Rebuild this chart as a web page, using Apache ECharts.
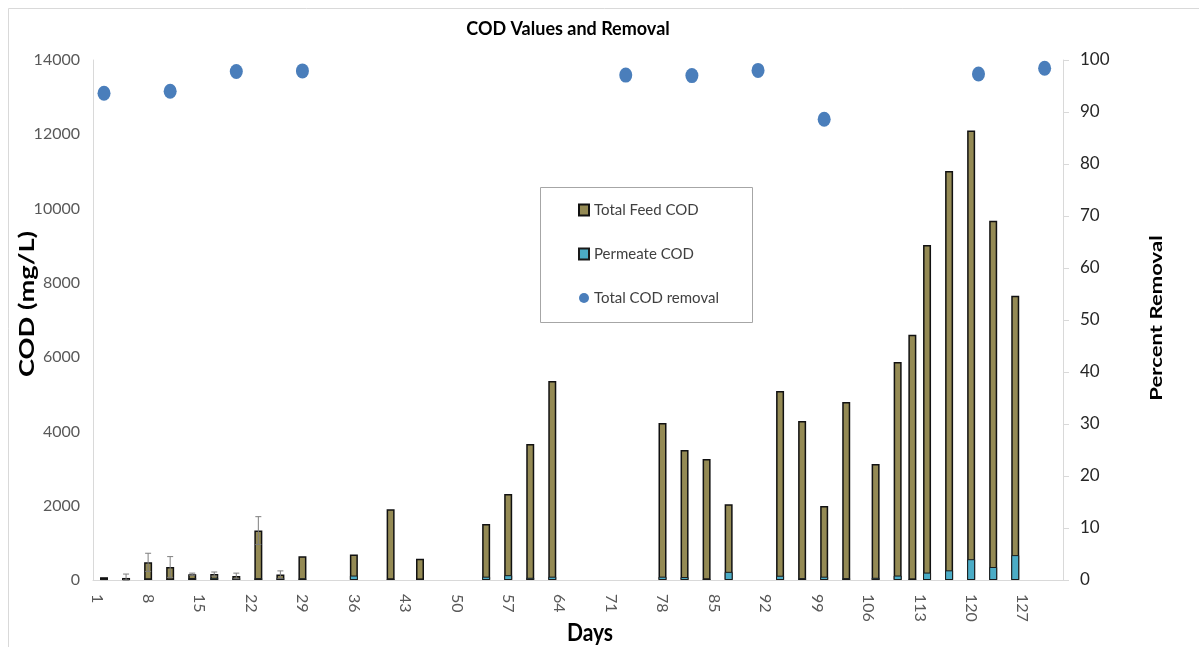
<!DOCTYPE html>
<html>
<head>
<meta charset="utf-8">
<script src="https://cdn.jsdelivr.net/npm/echarts@6/dist/echarts.min.js"></script>
<style>
html,body{margin:0;padding:0;background:#fff;}
#chart{width:1199px;height:647px;}
</style>
</head>
<body>
<div id="chart"></div>
<script>
// ---- data ----
const dayCount = 132;                       // category axis: days 1..132
const feedDays   = [2, 5, 8, 11, 14, 17, 20, 23, 26, 29, 36, 41, 45, 54, 57, 60, 63, 78, 81, 84, 87, 94, 97, 100, 103, 107, 110, 112, 114, 117, 120, 123, 126];
const feedCOD    = [75, 55, 475, 350, 155, 160, 110, 1330, 145, 640, 685, 1905, 570, 1510, 2315, 3660, 5360, 4225, 3500, 3255, 2040, 5090, 4280, 1995, 4795, 3125, 5870, 6600, 9020, 11010, 12100, 9670, 7650];
const permCOD    = [25, 20, 40, 30, 55, 60, 50, 50, 50, 45, 120, 40, 30, 90, 130, 60, 90, 90, 80, 40, 220, 115, 50, 90, 50, 60, 120, 35, 200, 260, 560, 350, 670];
const errDays    = [5, 8, 11, 14, 17, 20, 23, 26];
const errFeed    = [105, 245, 280, 30, 55, 75, 375, 100];
const removalDays = [2, 11, 20, 29, 73, 82, 91, 100, 121, 130];
const removalPct  = [93.6, 94.0, 97.8, 97.9, 97.1, 97.0, 98.0, 88.6, 97.3, 98.4];
const codTicks = {min: 0, max: 14000, step: 2000};
const pctTicks = {min: 0, max: 100, step: 10};

// ---- build library data ----
const days = [];
for (let d = 1; d <= dayCount; d++) days.push(String(d));
function spread(ds, vs) {
  const arr = new Array(dayCount).fill(null);
  ds.forEach((d, i) => { arr[d - 1] = vs[i]; });
  return arr;
}
const feedData = spread(feedDays, feedCOD);
const permData = spread(feedDays, permCOD);
const remData = spread(removalDays, removalPct);
const errData = errDays.map((d, i) => {
  const v = feedCOD[feedDays.indexOf(d)];
  return [String(d), Math.max(0, v - errFeed[i]), v + errFeed[i]];
});

const FONT = 'Lato, "Open Sans", sans-serif';
const chart = echarts.init(document.getElementById('chart'), null, {renderer: 'canvas'});
chart.setOption({
  animation: false,
  backgroundColor: '#ffffff',
  textStyle: {fontFamily: FONT},
  title: {
    text: 'COD Values and Removal',
    left: 563, top: 15, textAlign: 'center',
    textStyle: {fontFamily: FONT, fontSize: 18, fontWeight: 'bold', color: '#000'}
  },
  graphic: [
    {type: 'rect', shape: {x: 8.5, y: 8.5, width: 1200, height: 700}, style: {fill: 'none', stroke: '#d9d9d9', lineWidth: 1}, z: 0, silent: true},
    {type: 'rect', shape: {x: 540.5, y: 187.5, width: 212, height: 135}, style: {fill: '#fff', stroke: '#a6a6a6', lineWidth: 1}, z: 1, silent: true},
    {type: 'text', x: 27, y: 304, rotation: Math.PI / 2, scaleX: 1.3, silent: true, z: 5,
     style: {text: 'COD (mg/L)', fontFamily: FONT, fontSize: 21, fontWeight: 'bold', fill: '#000', align: 'center', verticalAlign: 'middle'}},
    {type: 'text', x: 1157, y: 318, rotation: Math.PI / 2, scaleX: 1.3, silent: true, z: 5,
     style: {text: 'Percent Removal', fontFamily: FONT, fontSize: 17, fontWeight: 'bold', fill: '#000', align: 'center', verticalAlign: 'middle'}},
    {type: 'text', x: 590, y: 633, scaleY: 1.15, silent: true, z: 5,
     style: {text: 'Days', fontFamily: FONT, fontSize: 21, fontWeight: 'bold', fill: '#000', align: 'center', verticalAlign: 'middle'}}
  ],
  legend: {
    orient: 'vertical', left: 578, top: 202, z: 10, padding: 0,
    itemGap: 28, itemWidth: 10, itemHeight: 11,
    textStyle: {fontFamily: FONT, fontSize: 15, color: '#404040', lineHeight: 16},
    data: [
      {name: 'Total Feed COD', icon: 'rect'},
      {name: 'Permeate COD', icon: 'rect'},
      {name: 'Total COD removal', icon: 'circle'}
    ]
  },
  grid: {left: 93, right: 136, top: 60, bottom: 67, containLabel: false, outerBoundsMode: 'none'},
  xAxis: {
    type: 'category', data: days, boundaryGap: true,
    axisLine: {show: true, lineStyle: {color: '#d9d9d9', width: 1}},
    axisTick: {show: false},
    axisLabel: {interval: 6, rotate: -90, margin: 14, fontSize: 16, color: '#595959', fontFamily: FONT},
    splitLine: {show: false}
  },
  yAxis: [
    {
      type: 'value', min: codTicks.min, max: codTicks.max, interval: codTicks.step,
      axisLine: {show: true, lineStyle: {color: '#d9d9d9'}},
      axisTick: {show: false},
      axisLabel: {fontSize: 16, color: '#595959', margin: 13, fontFamily: FONT, formatter: v => String(v)},
      splitLine: {show: false}
    },
    {
      type: 'value', min: pctTicks.min, max: pctTicks.max, interval: pctTicks.step, position: 'right',
      axisLine: {show: true, lineStyle: {color: '#d9d9d9'}},
      axisTick: {show: true, length: 6, lineStyle: {color: '#d9d9d9'}},
      axisLabel: {fontSize: 17, color: '#262626', margin: 17, fontFamily: FONT},
      splitLine: {show: false}
    }
  ],
  series: [
    {
      name: 'Total Feed COD', type: 'bar', yAxisIndex: 0, data: feedData,
      barWidth: 8, barGap: '-100%',
      itemStyle: {color: '#948A54', borderColor: '#111', borderWidth: 1.5},
      z: 2
    },
    {
      name: 'Permeate COD', type: 'bar', yAxisIndex: 0, data: permData,
      barWidth: 8, barGap: '-100%',
      itemStyle: {color: '#4BACC6', borderColor: '#1a1a1a', borderWidth: 1},
      z: 3
    },
    {
      name: 'err', type: 'custom', yAxisIndex: 0, data: errData,
      encode: {x: 0, y: [1, 2]}, z: 4, silent: true,
      renderItem: function (params, api) {
        const x = api.value(0);
        const lo = api.coord([x, api.value(1)]);
        const hi = api.coord([x, api.value(2)]);
        const w = 3;
        const st = {stroke: '#7f7f7f', lineWidth: 1};
        return {type: 'group', children: [
          {type: 'line', shape: {x1: lo[0], y1: lo[1], x2: hi[0], y2: hi[1]}, style: st},
          {type: 'line', shape: {x1: hi[0] - w, y1: hi[1], x2: hi[0] + w, y2: hi[1]}, style: st},
          {type: 'line', shape: {x1: lo[0] - w, y1: lo[1], x2: lo[0] + w, y2: lo[1]}, style: st}
        ]};
      }
    },
    {
      name: 'Total COD removal', type: 'scatter', yAxisIndex: 1, data: remData,
      symbol: 'circle', symbolSize: [13, 15],
      itemStyle: {color: '#4A7EBB', opacity: 1}, z: 5
    }
  ]
});
</script>
</body>
</html>
